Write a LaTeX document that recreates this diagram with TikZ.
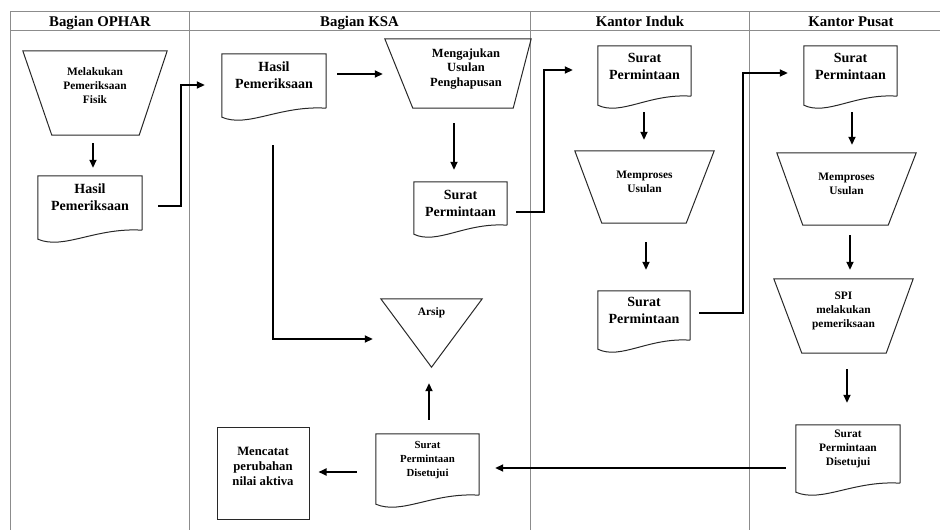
\documentclass[tikz,border=0pt]{standalone}
\usepackage{fontspec}
\setmainfont{Liberation Serif}
\usetikzlibrary{arrows.meta,calc}
\definecolor{lanegray}{RGB}{140,140,140}
\definecolor{inkline}{RGB}{40,40,40}

\begin{document}
\begin{tikzpicture}[x=1pt,y=-1pt,
  lane/.style={draw=lanegray, line width=1pt},
  outline/.style={draw=inkline, line width=1pt, line join=miter},
  flow/.style={draw=black, line width=1.7pt, line join=miter,
    -{Triangle[length=8pt,width=7pt]}},
  shapebox/.style={draw=none, inner sep=0pt, align=center},
  bigtxt/.style={shapebox, font=\bfseries\fontsize{14}{17}\selectfont},
  smalltxt/.style={shapebox, font=\bfseries\fontsize{11.4}{14.2}\selectfont},
  head/.style={anchor=base, inner sep=0pt, font=\bfseries\fontsize{14.8}{17}\selectfont}
]
\useasboundingbox (0,0) rectangle (940,530);

% swimlane grid
\draw[lane] (10,11) -- (940,11);
\draw[lane] (10,30) -- (940,30);
\foreach \lx in {10,189,530,749}
  \draw[lane] (\lx,11) -- (\lx,530);

% lane headings
\node[head] (h1) at (100,26.7) {Bagian OPHAR};
\node[head] (h2) at (359.5,26.7) {Bagian KSA};
\node[head] (h3) at (640,26.7) {Kantor Induk};
\node[head] (h4) at (851,26.7) {Kantor Pusat};

% Bagian OPHAR
\node[smalltxt, minimum width=144pt, minimum height=84pt, text depth=14.6pt] (op1) at (95,93)
  {Melakukan\\Pemeriksaan\\Fisik};
\node[bigtxt, minimum width=104pt, minimum height=54pt, text depth=11pt] (op2) at (90,203)
  {Hasil\\Pemeriksaan};

% Bagian KSA
\node[bigtxt, minimum width=104pt, minimum height=54pt, text depth=12pt] (ksa1) at (274,81)
  {Hasil\\Pemeriksaan};
\node[shapebox, font=\bfseries\fontsize{12.5}{14.5}\selectfont,
  minimum width=130pt, minimum height=69pt, text depth=12.4pt] (ksa2) at (466,73.5)
  {Mengajukan\\Usulan\\Penghapusan};
\node[bigtxt, minimum width=93pt, minimum height=43pt, text depth=1pt] (ksa3) at (460.5,203.5)
  {Surat\\Permintaan};
\node[smalltxt, minimum width=101pt, minimum height=68pt, text depth=42.6pt] (arsip) at (431.5,333)
  {Arsip};
\node[smalltxt, font=\bfseries\fontsize{10.8}{14}\selectfont,
  minimum width=103pt, minimum height=61pt, text depth=11.6pt] (ksa4) at (427.5,464.5)
  {Surat\\Permintaan\\Disetujui};
\node[shapebox, font=\bfseries\fontsize{12.7}{15}\selectfont, draw=inkline, line width=1pt,
  minimum width=92pt, minimum height=92pt, text depth=13pt] (ksa5) at (263,473)
  {Mencatat\\perubahan\\nilai aktiva};

% Kantor Induk
\node[bigtxt, minimum width=93pt, minimum height=50pt, text depth=9pt] (ki1) at (644.5,71)
  {Surat\\Permintaan};
\node[smalltxt, minimum width=139pt, minimum height=72pt, text depth=10.6pt] (ki2) at (644.5,187)
  {Memproses\\Usulan};
\node[bigtxt, minimum width=92pt, minimum height=49pt, text depth=10pt] (ki3) at (644,315.5)
  {Surat\\Permintaan};

% Kantor Pusat
\node[bigtxt, minimum width=93pt, minimum height=50pt, text depth=9pt] (kp1) at (850.5,71)
  {Surat\\Permintaan};
\node[smalltxt, minimum width=139pt, minimum height=72pt, text depth=10.6pt] (kp2) at (846.5,189)
  {Memproses\\Usulan};
\node[smalltxt, minimum width=139pt, minimum height=74pt, text depth=12.6pt] (kp3) at (843.5,316)
  {SPI\\melakukan\\pemeriksaan};
\node[smalltxt, minimum width=104pt, minimum height=58pt, text depth=12.6pt] (kp4) at (848,454)
  {Surat\\Permintaan\\Disetujui};

% manual operations: node / top-left / top-right / bottom-right / bottom-left shifts
\foreach \n/\tl/\tr/\br/\bl in {op1/0/0/-28/29, ksa2/-16/0/-18/12,
    ki2/0/0/-28/27, kp2/0/0/-28/26, kp3/0/0/-27/28}
  \draw[outline] ([xshift=\tl pt]\n.north west) -- ([xshift=\tr pt]\n.north east)
    -- ([xshift=\br pt]\n.south east) -- ([xshift=\bl pt]\n.south west) -- cycle;

% documents with a wavy lower edge
\foreach \n in {op2,ksa1,ksa3,ksa4,ki1,ki3,kp1,kp4}
  \draw[outline] (\n.south east) -- (\n.north east) -- (\n.north west)
    -- ([yshift=-9pt]\n.south west)
    .. controls ($(\n.south west)!0.25!(\n.south east)+(0pt,-20pt)$)
    and ($(\n.south west)!0.55!(\n.south east)+(0pt,3pt)$) .. (\n.south east);

% archive (merge symbol)
\draw[outline] (arsip.north west) -- (arsip.north east) -- (arsip.south) -- cycle;

% flow connectors
\draw[flow] ([shift={(-2pt,-8pt)}]op1.south) -- ([shift={(3pt,8pt)}]op2.north);
\draw[flow] ([shift={(16pt,-3pt)}]op2.east) -| ([shift={(-41pt,-4pt)}]ksa1.west)
  -- ([shift={(-17pt,-4pt)}]ksa1.west);
\draw[flow] ([shift={(11pt,7pt)}]ksa1.east) -- ([shift={(-18pt,-0.5pt)}]ksa2.west);
\draw[flow] ([shift={(-12pt,-15pt)}]ksa2.south) -- ([shift={(-6.5pt,12pt)}]ksa3.north);
\draw[flow] ([shift={(9pt,-8.5pt)}]ksa3.east) -| ([shift={(-54pt,1pt)}]ki1.west)
  -- ([shift={(-25pt,1pt)}]ki1.west);
\draw[flow] ([shift={(-0.5pt,-16pt)}]ki1.south) -- ([shift={(-0.5pt,11pt)}]ki2.north);
\draw[flow] ([shift={(1.5pt,-19pt)}]ki2.south) -- ([shift={(2pt,21pt)}]ki3.north);
\draw[flow] ([shift={(9pt,2.5pt)}]ki3.east) -| ([shift={(-61pt,-2pt)}]kp1.west)
  -- ([shift={(-16pt,-2pt)}]kp1.west);
\draw[flow] ([shift={(1.5pt,-16pt)}]kp1.south) -- ([shift={(5.5pt,8pt)}]kp2.north);
\draw[flow] ([shift={(3.5pt,-10pt)}]kp2.south) -- ([shift={(6.5pt,9pt)}]kp3.north);
\draw[flow] ([shift={(3.5pt,-16pt)}]kp3.south) -- ([shift={(-1pt,22pt)}]kp4.north);
\draw[flow] ([shift={(-10pt,-14pt)}]kp4.west) -- ([shift={(16pt,-3.5pt)}]ksa4.east);
\draw[flow] ([shift={(-19pt,-7.5pt)}]ksa4.west) -- ([shift={(9pt,1pt)}]ksa5.east);
\draw[flow] ([shift={(1.5pt,14pt)}]ksa4.north) -- ([shift={(-2.5pt,-16pt)}]arsip.south);
\draw[flow] ([shift={(-1pt,-37pt)}]ksa1.south) |- ([shift={(-8pt,-6pt)}]arsip.west);

\end{tikzpicture}
\end{document}
